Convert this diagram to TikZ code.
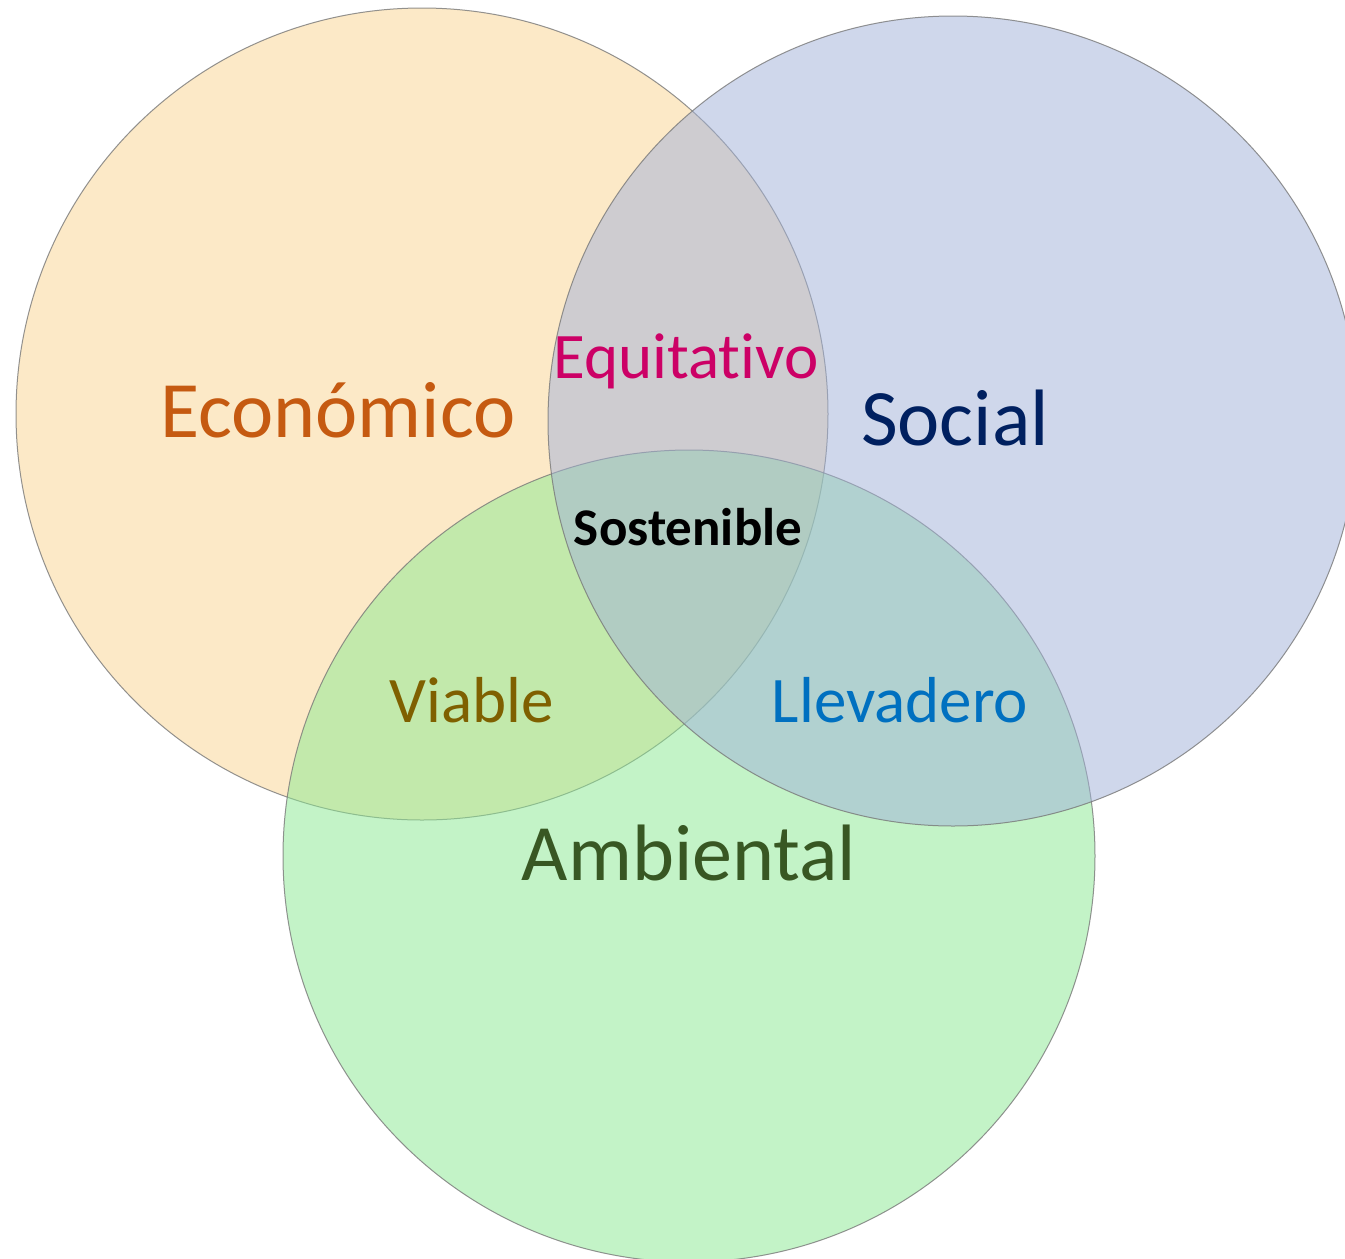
\documentclass[tikz,border=0pt]{standalone}
\usepackage{fontspec}
\setmainfont{Carlito}[Ligatures={NoCommon}]
\definecolor{econfill}{RGB}{251,213,145}
\definecolor{socfill}{RGB}{161,177,217}
\definecolor{ambfill}{RGB}{137,233,145}
\definecolor{econtxt}{RGB}{197,90,17}
\definecolor{soctxt}{RGB}{0,32,96}
\definecolor{ambtxt}{RGB}{56,87,35}
\definecolor{equtxt}{RGB}{204,0,102}
\definecolor{viatxt}{RGB}{127,96,0}
\definecolor{lletxt}{RGB}{0,112,192}
\definecolor{rimcol}{RGB}{120,120,120}
\tikzset{
  setcircle/.style={draw=rimcol, line width=1pt, fill opacity=0.5, draw opacity=0.8},
  biglabel/.style={anchor=base, inner sep=0pt, font=\fontsize{80}{90}\selectfont},
  midlabel/.style={anchor=base, inner sep=0pt, font=\fontsize{65}{75}\selectfont},
}
\begin{document}
\begin{tikzpicture}[x=1pt,y=-1pt]
\useasboundingbox (0,0) rectangle (1345,1259);
\clip (0,0) rectangle (1345,1259);
\fill[white] (0,0) rectangle (1345,1259);
\path[setcircle, fill=econfill] (422,414) circle [radius=406pt];
\path[setcircle, fill=ambfill] (689,856) circle [radius=406pt];
\path[setcircle, fill=socfill] (953,421) circle [radius=405pt];
\node[biglabel, text=econtxt] (econ) at (338,437) {Económico};
\node[biglabel, text=soctxt] (soc) at (955,445) {Social};
\node[biglabel, text=ambtxt] (amb) at (689,880) {Ambiental};
\node[midlabel, text=equtxt] (equ) at (686,378) {Equitativo};
\node[midlabel, text=viatxt] (via) at (472,722) {Viable};
\node[midlabel, text=lletxt] (lle) at (900,722) {Llevadero};
\node[anchor=base, inner sep=0pt, font=\fontsize{53}{60}\selectfont\bfseries] (sos) at (688,545) {Sostenible};
\end{tikzpicture}
\end{document}
